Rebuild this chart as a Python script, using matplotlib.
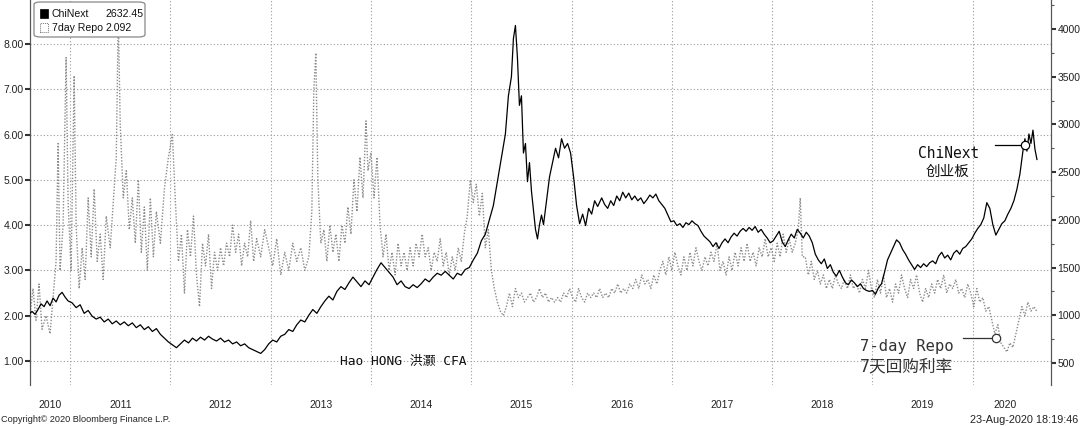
import matplotlib
matplotlib.use("Agg")
import matplotlib.pyplot as plt
from matplotlib.patches import FancyBboxPatch, Rectangle

# ---------------- data (decimal year, value) ----------------
chinext_points = [
    (2010.58, 1000), (2010.62, 1040), (2010.65, 1010), (2010.68, 1060), (2010.71, 1120), (2010.74, 1090),
    (2010.77, 1150), (2010.80, 1100), (2010.83, 1180), (2010.86, 1140), (2010.89, 1210), (2010.92, 1240),
    (2010.95, 1190), (2010.98, 1150), (2011.02, 1130), (2011.06, 1080), (2011.10, 1110), (2011.14, 1020),
    (2011.18, 1050), (2011.22, 990), (2011.26, 960), (2011.30, 980), (2011.34, 930), (2011.38, 960),
    (2011.42, 910), (2011.46, 940), (2011.50, 900), (2011.54, 930), (2011.58, 890), (2011.62, 920),
    (2011.66, 870), (2011.70, 900), (2011.74, 850), (2011.78, 880), (2011.82, 830), (2011.86, 860),
    (2011.90, 800), (2011.94, 760), (2011.98, 720), (2012.02, 690), (2012.06, 660), (2012.10, 700),
    (2012.14, 740), (2012.18, 710), (2012.22, 760), (2012.26, 730), (2012.30, 770), (2012.34, 740),
    (2012.38, 780), (2012.42, 750), (2012.46, 730), (2012.50, 760), (2012.54, 720), (2012.58, 740),
    (2012.62, 700), (2012.66, 720), (2012.70, 680), (2012.74, 700), (2012.78, 660), (2012.82, 640),
    (2012.86, 620), (2012.90, 600), (2012.94, 640), (2012.98, 700), (2013.02, 740), (2013.06, 720),
    (2013.10, 780), (2013.14, 800), (2013.18, 850), (2013.22, 830), (2013.26, 900), (2013.30, 950),
    (2013.34, 930), (2013.38, 1000), (2013.42, 1060), (2013.46, 1020), (2013.50, 1090), (2013.54, 1150),
    (2013.58, 1200), (2013.62, 1160), (2013.66, 1250), (2013.70, 1300), (2013.74, 1270), (2013.78, 1340),
    (2013.82, 1400), (2013.86, 1350), (2013.90, 1300), (2013.94, 1360), (2013.98, 1320), (2014.02, 1400),
    (2014.06, 1480), (2014.10, 1550), (2014.14, 1500), (2014.18, 1450), (2014.22, 1400), (2014.26, 1320),
    (2014.30, 1360), (2014.34, 1300), (2014.38, 1280), (2014.42, 1320), (2014.46, 1290), (2014.50, 1330),
    (2014.54, 1380), (2014.58, 1350), (2014.62, 1400), (2014.66, 1440), (2014.70, 1420), (2014.74, 1460),
    (2014.78, 1420), (2014.82, 1380), (2014.86, 1440), (2014.90, 1420), (2014.94, 1480), (2014.98, 1500),
    (2015.02, 1580), (2015.06, 1650), (2015.10, 1780), (2015.14, 1850), (2015.18, 2000), (2015.22, 2150),
    (2015.26, 2400), (2015.30, 2650), (2015.34, 2900), (2015.37, 3300), (2015.40, 3500), (2015.42, 3900),
    (2015.44, 4037), (2015.46, 3700), (2015.48, 3200), (2015.50, 3300), (2015.52, 2700), (2015.54, 2800),
    (2015.56, 2400), (2015.58, 2600), (2015.60, 2300), (2015.62, 2100), (2015.64, 1900), (2015.66, 1800),
    (2015.68, 1950), (2015.70, 2050), (2015.72, 1950), (2015.75, 2200), (2015.78, 2450), (2015.81, 2600),
    (2015.84, 2750), (2015.87, 2650), (2015.90, 2850), (2015.93, 2750), (2015.96, 2800), (2015.99, 2700),
    (2016.02, 2450), (2016.05, 2150), (2016.08, 1960), (2016.11, 2060), (2016.14, 1940), (2016.17, 2120),
    (2016.20, 2060), (2016.23, 2200), (2016.26, 2140), (2016.30, 2230), (2016.33, 2160), (2016.36, 2120),
    (2016.39, 2200), (2016.42, 2150), (2016.45, 2250), (2016.48, 2200), (2016.51, 2290), (2016.54, 2230),
    (2016.57, 2280), (2016.60, 2210), (2016.63, 2250), (2016.66, 2200), (2016.69, 2230), (2016.72, 2170),
    (2016.75, 2210), (2016.78, 2260), (2016.81, 2230), (2016.84, 2270), (2016.87, 2200), (2016.90, 2160),
    (2016.93, 2120), (2016.96, 2050), (2016.99, 1980), (2017.02, 1990), (2017.05, 1940), (2017.08, 1960),
    (2017.11, 1920), (2017.14, 1970), (2017.17, 1950), (2017.20, 1990), (2017.23, 1960), (2017.26, 1940),
    (2017.29, 1880), (2017.32, 1830), (2017.35, 1800), (2017.38, 1770), (2017.41, 1720), (2017.44, 1760),
    (2017.47, 1700), (2017.50, 1760), (2017.53, 1800), (2017.56, 1760), (2017.59, 1820), (2017.62, 1860),
    (2017.65, 1830), (2017.68, 1880), (2017.71, 1910), (2017.74, 1880), (2017.77, 1920), (2017.80, 1890),
    (2017.83, 1930), (2017.86, 1870), (2017.89, 1900), (2017.92, 1850), (2017.95, 1810), (2017.98, 1760),
    (2018.01, 1780), (2018.04, 1830), (2018.07, 1880), (2018.10, 1770), (2018.13, 1720), (2018.16, 1790),
    (2018.19, 1850), (2018.22, 1810), (2018.25, 1900), (2018.28, 1860), (2018.31, 1810), (2018.34, 1870),
    (2018.37, 1830), (2018.40, 1760), (2018.43, 1640), (2018.46, 1580), (2018.49, 1540), (2018.52, 1590),
    (2018.55, 1490), (2018.58, 1530), (2018.61, 1450), (2018.64, 1410), (2018.67, 1470), (2018.70, 1400),
    (2018.73, 1340), (2018.76, 1320), (2018.79, 1370), (2018.82, 1340), (2018.85, 1300), (2018.88, 1330),
    (2018.91, 1280), (2018.94, 1260), (2018.97, 1250), (2019.00, 1260), (2019.03, 1220), (2019.06, 1290),
    (2019.09, 1330), (2019.12, 1450), (2019.15, 1580), (2019.18, 1650), (2019.21, 1720), (2019.24, 1790),
    (2019.27, 1760), (2019.30, 1690), (2019.33, 1640), (2019.36, 1580), (2019.39, 1530), (2019.42, 1480),
    (2019.45, 1530), (2019.48, 1500), (2019.51, 1540), (2019.54, 1510), (2019.57, 1550), (2019.60, 1570),
    (2019.63, 1540), (2019.66, 1620), (2019.69, 1660), (2019.72, 1600), (2019.75, 1630), (2019.78, 1580),
    (2019.81, 1650), (2019.84, 1680), (2019.87, 1640), (2019.90, 1700), (2019.93, 1720), (2019.96, 1760),
    (2019.99, 1800), (2020.02, 1860), (2020.05, 1910), (2020.08, 1950), (2020.11, 2020), (2020.14, 2180),
    (2020.17, 2120), (2020.20, 1950), (2020.23, 1840), (2020.26, 1900), (2020.29, 1960), (2020.32, 1990),
    (2020.35, 2060), (2020.38, 2120), (2020.41, 2200), (2020.44, 2320), (2020.47, 2480), (2020.50, 2720),
    (2020.52, 2850), (2020.54, 2720), (2020.56, 2900), (2020.58, 2800), (2020.60, 2940), (2020.62, 2740),
    (2020.64, 2632.45),
]

repo_points = [
    (2010.60, 2.0), (2010.63, 2.6), (2010.66, 1.9), (2010.69, 2.7), (2010.72, 1.7), (2010.76, 2.0),
    (2010.80, 1.6), (2010.83, 2.4), (2010.86, 3.2), (2010.88, 5.8), (2010.90, 3.0), (2010.93, 4.0),
    (2010.96, 7.7), (2010.98, 4.5), (2011.01, 3.0), (2011.04, 7.3), (2011.06, 4.0), (2011.09, 2.6),
    (2011.12, 3.5), (2011.15, 2.8), (2011.18, 4.6), (2011.21, 3.3), (2011.24, 4.8), (2011.27, 3.2),
    (2011.30, 3.8), (2011.33, 2.8), (2011.36, 4.2), (2011.40, 3.5), (2011.43, 4.5), (2011.46, 5.5),
    (2011.48, 8.6), (2011.50, 6.2), (2011.53, 4.6), (2011.56, 5.2), (2011.59, 3.9), (2011.62, 4.6),
    (2011.65, 3.6), (2011.68, 5.0), (2011.71, 3.4), (2011.74, 4.4), (2011.77, 3.0), (2011.80, 4.6),
    (2011.83, 3.3), (2011.86, 4.3), (2011.90, 3.6), (2011.94, 4.8), (2011.98, 5.5), (2012.02, 6.0),
    (2012.05, 4.5), (2012.08, 3.2), (2012.11, 3.8), (2012.14, 2.5), (2012.17, 3.9), (2012.20, 3.3),
    (2012.23, 4.2), (2012.26, 2.9), (2012.29, 2.2), (2012.32, 3.6), (2012.35, 3.1), (2012.38, 3.8),
    (2012.41, 2.6), (2012.44, 3.4), (2012.47, 3.0), (2012.50, 3.5), (2012.53, 3.1), (2012.56, 3.6),
    (2012.59, 3.3), (2012.62, 4.0), (2012.65, 3.4), (2012.68, 3.8), (2012.71, 3.1), (2012.74, 3.6),
    (2012.77, 3.3), (2012.80, 4.1), (2012.83, 3.2), (2012.86, 3.7), (2012.90, 3.3), (2012.94, 3.9),
    (2012.98, 3.5), (2013.02, 3.1), (2013.06, 3.7), (2013.10, 2.9), (2013.14, 3.4), (2013.18, 3.0),
    (2013.22, 3.6), (2013.26, 3.2), (2013.30, 3.5), (2013.34, 3.0), (2013.38, 3.3), (2013.41, 4.3),
    (2013.43, 7.0), (2013.45, 7.8), (2013.47, 5.0), (2013.50, 3.6), (2013.53, 3.9), (2013.56, 3.2),
    (2013.59, 4.0), (2013.62, 3.4), (2013.65, 3.8), (2013.68, 3.2), (2013.71, 4.0), (2013.74, 3.6),
    (2013.77, 4.4), (2013.80, 3.8), (2013.83, 5.0), (2013.86, 4.3), (2013.89, 5.5), (2013.92, 4.6),
    (2013.95, 6.3), (2013.97, 5.2), (2014.00, 5.6), (2014.03, 4.6), (2014.06, 5.5), (2014.09, 4.0),
    (2014.12, 3.3), (2014.15, 3.8), (2014.18, 3.0), (2014.21, 3.4), (2014.24, 2.9), (2014.27, 3.6),
    (2014.30, 3.1), (2014.33, 3.4), (2014.36, 3.0), (2014.39, 3.5), (2014.42, 3.1), (2014.45, 3.6),
    (2014.48, 3.3), (2014.51, 3.8), (2014.54, 3.3), (2014.57, 3.5), (2014.60, 3.0), (2014.63, 3.4),
    (2014.66, 3.2), (2014.69, 3.7), (2014.72, 3.1), (2014.75, 3.4), (2014.78, 2.9), (2014.81, 3.3),
    (2014.84, 3.0), (2014.87, 3.5), (2014.90, 3.2), (2014.93, 3.8), (2014.96, 4.2), (2014.99, 5.0),
    (2015.02, 4.5), (2015.05, 4.9), (2015.08, 4.2), (2015.11, 4.7), (2015.14, 3.5), (2015.17, 3.9),
    (2015.20, 3.0), (2015.23, 2.6), (2015.26, 2.3), (2015.29, 2.1), (2015.32, 2.0), (2015.35, 2.2),
    (2015.38, 2.5), (2015.41, 2.2), (2015.44, 2.6), (2015.47, 2.4), (2015.50, 2.5), (2015.53, 2.3),
    (2015.56, 2.4), (2015.59, 2.5), (2015.62, 2.3), (2015.65, 2.4), (2015.68, 2.6), (2015.71, 2.4),
    (2015.74, 2.5), (2015.77, 2.3), (2015.80, 2.4), (2015.83, 2.3), (2015.86, 2.4), (2015.89, 2.3),
    (2015.92, 2.5), (2015.95, 2.4), (2015.98, 2.6), (2016.01, 2.4), (2016.04, 2.3), (2016.07, 2.6),
    (2016.10, 2.4), (2016.13, 2.3), (2016.16, 2.5), (2016.19, 2.4), (2016.22, 2.5), (2016.25, 2.4),
    (2016.28, 2.6), (2016.31, 2.4), (2016.34, 2.5), (2016.37, 2.4), (2016.40, 2.6), (2016.43, 2.5),
    (2016.46, 2.7), (2016.49, 2.5), (2016.52, 2.6), (2016.55, 2.5), (2016.58, 2.7), (2016.61, 2.6),
    (2016.64, 2.8), (2016.67, 2.6), (2016.70, 2.9), (2016.73, 2.7), (2016.76, 2.8), (2016.79, 2.6),
    (2016.82, 2.9), (2016.85, 2.7), (2016.88, 3.0), (2016.91, 3.2), (2016.94, 2.9), (2016.97, 3.3),
    (2017.00, 3.0), (2017.03, 3.4), (2017.06, 3.1), (2017.09, 2.9), (2017.12, 3.3), (2017.15, 3.0),
    (2017.18, 3.4), (2017.21, 3.1), (2017.24, 3.5), (2017.27, 3.2), (2017.30, 3.0), (2017.33, 3.3),
    (2017.36, 3.1), (2017.39, 3.4), (2017.42, 3.2), (2017.45, 3.6), (2017.48, 3.0), (2017.51, 3.2),
    (2017.54, 2.9), (2017.57, 3.3), (2017.60, 3.0), (2017.63, 3.4), (2017.66, 3.1), (2017.69, 3.5),
    (2017.72, 3.2), (2017.75, 3.6), (2017.78, 3.2), (2017.81, 3.4), (2017.84, 3.1), (2017.87, 3.5),
    (2017.90, 3.3), (2017.93, 3.7), (2017.96, 3.3), (2017.99, 3.5), (2018.02, 3.2), (2018.05, 3.6),
    (2018.08, 3.3), (2018.11, 3.8), (2018.14, 3.4), (2018.17, 3.7), (2018.20, 3.4), (2018.23, 3.6),
    (2018.26, 3.9), (2018.28, 4.6), (2018.30, 3.3), (2018.33, 3.3), (2018.36, 2.9), (2018.39, 3.2),
    (2018.42, 2.8), (2018.45, 3.0), (2018.48, 2.7), (2018.51, 2.9), (2018.54, 2.6), (2018.57, 2.8),
    (2018.60, 2.6), (2018.63, 2.9), (2018.66, 2.7), (2018.69, 2.6), (2018.72, 2.8), (2018.75, 2.6),
    (2018.78, 2.9), (2018.81, 2.6), (2018.84, 2.7), (2018.87, 2.5), (2018.90, 2.8), (2018.93, 2.6),
    (2018.96, 3.0), (2018.99, 2.6), (2019.02, 2.4), (2019.05, 2.8), (2019.08, 2.5), (2019.11, 2.9),
    (2019.14, 2.4), (2019.17, 2.6), (2019.20, 2.3), (2019.23, 2.7), (2019.26, 2.5), (2019.29, 2.9),
    (2019.32, 2.6), (2019.35, 2.4), (2019.38, 2.8), (2019.41, 2.6), (2019.44, 2.9), (2019.47, 2.5),
    (2019.50, 2.3), (2019.53, 2.6), (2019.56, 2.4), (2019.59, 2.7), (2019.62, 2.5), (2019.65, 2.8),
    (2019.68, 2.6), (2019.71, 2.9), (2019.74, 2.5), (2019.77, 2.7), (2019.80, 2.6), (2019.83, 2.8),
    (2019.86, 2.5), (2019.89, 2.6), (2019.92, 2.4), (2019.95, 2.7), (2019.98, 2.5), (2020.01, 2.2),
    (2020.04, 2.6), (2020.07, 2.3), (2020.10, 2.4), (2020.13, 2.1), (2020.16, 2.2), (2020.19, 1.9),
    (2020.22, 1.6), (2020.25, 1.8), (2020.28, 1.4), (2020.31, 1.3), (2020.34, 1.2), (2020.37, 1.4),
    (2020.40, 1.3), (2020.43, 1.6), (2020.46, 1.9), (2020.49, 2.2), (2020.52, 2.0), (2020.55, 2.3),
    (2020.58, 2.1), (2020.61, 2.2), (2020.64, 2.092),
]

left_ticks = [1.0, 2.0, 3.0, 4.0, 5.0, 6.0, 7.0, 8.0]
right_ticks = [500, 1000, 1500, 2000, 2500, 3000, 3500, 4000]
years = [2010, 2011, 2012, 2013, 2014, 2015, 2016, 2017, 2018, 2019, 2020]
last_chinext = "2632.45"
last_repo = "2.092"

# ---------------- figure ----------------
W, H = 1080, 426
fig = plt.figure(figsize=(W / 100, H / 100), dpi=100)
fig.patch.set_facecolor("white")
SANS = "Liberation Sans"

def fx(px):
    return px / W

def fy(py):
    return 1 - py / H

ax = fig.add_axes([fx(30), fy(385), fx(1051) - fx(30), fy(0) - fy(385)])
ax2 = ax.twinx()

XMIN, XMAX = 2010.60, 2020.78
ax.set_xlim(XMIN, XMAX)
ax.set_ylim(0.47, 8.97)
ax2.set_ylim(269, 4304)

rx = [p[0] for p in repo_points]
ry = [p[1] for p in repo_points]
cx = [p[0] for p in chinext_points]
cy = [p[1] for p in chinext_points]

ax.plot(rx, ry, color="#8c8c8c", lw=1.0, ls=(0, (1, 1.2)), zorder=3)
ax2.plot(cx, cy, color="black", lw=0.9, zorder=3)

for a in (ax, ax2):
    a.spines["top"].set_visible(False)
    a.spines["bottom"].set_visible(False)
    a.spines["left"].set_color("#555555")
    a.spines["right"].set_color("#555555")

ax.set_yticks(left_ticks)
ax.set_yticklabels([f"{v:.2f}" for v in left_ticks], fontfamily=SANS)
ax2.set_yticks(right_ticks)
ax2.set_yticklabels([str(v) for v in right_ticks], fontfamily=SANS)
ax2.set_yticks([250 * k for k in range(2, 18) if 250 * k not in right_ticks], minor=True)

ax.tick_params(axis="y", direction="out", length=3.5, width=1.5, color="#333333",
               labelsize=7.5, labelcolor="#222222", pad=1.2)
ax2.tick_params(axis="y", which="major", direction="out", length=3.5, width=1.5, color="#333333",
                labelsize=7.5, labelcolor="#222222", pad=1.2)
ax2.tick_params(axis="y", which="minor", direction="out", length=2.5, width=0.8, color="#555555")

data_end = cx[-1]
label_pos = []
for y in years:
    lo = max(y, XMIN)
    hi = min(y + 1, data_end)
    label_pos.append((lo + hi) / 2)
ax.set_xticks(label_pos)
ax.set_xticklabels([str(y) for y in years], fontfamily=SANS)
ax.set_xticks([y for y in years if XMIN < y < XMAX], minor=True)
ax.tick_params(axis="x", which="both", length=0, labelsize=7.5, labelcolor="#222222", pad=11)

ax.grid(False)
ax.yaxis.grid(True, which="major", color="#9a9a9a", ls=(0, (1, 2)), lw=0.8)
ax.xaxis.grid(True, which="minor", color="#9a9a9a", ls=(0, (1, 2)), lw=0.8)
ax.set_axisbelow(True)

# annotations
ax2.plot([2020.22, 2020.52], [2784, 2784], color="black", lw=0.9, zorder=4)
ax2.plot([2020.52], [2784], marker="o", ms=6, mfc="white", mec="black", mew=0.9, zorder=5)
ax.plot([2019.90, 2020.23], [1.51, 1.51], color="#333333", lw=0.9, zorder=4)
ax.plot([2020.23], [1.51], marker="o", ms=6, mfc="white", mec="#333333", mew=0.9, zorder=5)

mono_cjk = ["DejaVu Sans Mono", "Noto Sans CJK SC"]
fig.text(fx(949), fy(154), "ChiNext", family=mono_cjk, fontsize=10.5, ha="center", va="center", color="#111111")
fig.text(fx(948), fy(172), "创业板", family=["Noto Sans CJK SC"], fontsize=10.5, ha="center", va="center", color="#111111")
fig.text(fx(860), fy(347), "7-day Repo", family=mono_cjk, fontsize=11.2, ha="left", va="center", color="#333333")
fig.text(fx(860), fy(366), "7天回购利率", family=mono_cjk, fontsize=12, ha="left", va="center", color="#333333")
fig.text(fx(340), fy(361), "Hao HONG 洪灏 CFA", family=mono_cjk, fontsize=9.3, ha="left", va="center", color="#111111")

# footer
fig.text(fx(1), fy(420), "Copyright\u00a9 2020 Bloomberg Finance L.P.", family=SANS, fontsize=6.6,
         ha="left", va="center", color="#222222")
fig.text(fx(1078), fy(420), "23-Aug-2020 18:19:46", family=SANS, fontsize=7.8,
         ha="right", va="center", color="#222222")

# legend box
box = FancyBboxPatch((fx(34), fy(37)), fx(145) - fx(34), fy(2) - fy(37),
                     boxstyle="round,pad=0,rounding_size=0.006", transform=fig.transFigure,
                     facecolor="white", edgecolor="#888888", lw=0.9, zorder=10)
fig.patches.append(box)
fig.patches.append(Rectangle((fx(40), fy(18)), fx(48) - fx(40), fy(9) - fy(18), transform=fig.transFigure,
                             facecolor="black", edgecolor="black", lw=0.5, zorder=11))
fig.patches.append(Rectangle((fx(40), fy(32)), fx(48) - fx(40), fy(23) - fy(32), transform=fig.transFigure,
                             facecolor="white", edgecolor="#777777", lw=0.7, ls=(0, (1, 1)), zorder=11))
fig.text(fx(52), fy(14), "ChiNext", family=SANS, fontsize=7.6, ha="left", va="center", color="#111111", zorder=12)
fig.text(fx(105), fy(14), last_chinext, family=SANS, fontsize=7.6, ha="left", va="center", color="#111111", zorder=12)
fig.text(fx(52), fy(28), "7day Repo", family=SANS, fontsize=7.6, ha="left", va="center", color="#111111", zorder=12)
fig.text(fx(105), fy(28), last_repo, family=SANS, fontsize=7.6, ha="left", va="center", color="#111111", zorder=12)

fig.savefig("out.png", dpi=100, facecolor="white")
